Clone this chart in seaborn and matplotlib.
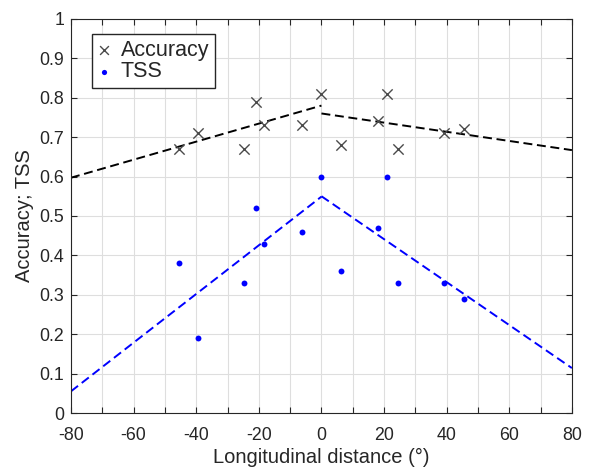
import matplotlib
matplotlib.use("Agg")
import matplotlib.pyplot as plt
import seaborn as sns
import pandas as pd
import numpy as np

# ---- data ----
dist = [-45.5, -39.4, -24.6, -20.9, -18.2, -6.1, 0.0, 6.3, 18.2, 21.0, 24.6, 39.3, 45.6]
accuracy = [0.67, 0.71, 0.67, 0.79, 0.73, 0.73, 0.81, 0.68, 0.74, 0.81, 0.67, 0.71, 0.72]
tss = [0.38, 0.19, 0.33, 0.52, 0.43, 0.46, 0.60, 0.36, 0.47, 0.60, 0.33, 0.33, 0.29]

# fitted trend lines (endpoints)
fit_left_x = [-80, 0]
fit_right_x = [0, 80]
acc_fit_left = [0.597, 0.780]
acc_fit_right = [0.760, 0.667]
tss_fit_left = [0.055, 0.549]
tss_fit_right = [0.550, 0.114]

xticks = list(range(-80, 81, 10))
xticklabels = [str(v) if v % 20 == 0 else "" for v in xticks]
yticks = [round(0.1 * i, 1) for i in range(11)]
yticklabels = ["0", "0.1", "0.2", "0.3", "0.4", "0.5", "0.6", "0.7", "0.8", "0.9", "1"]

sns.set_theme(style="ticks")
plt.rcParams["font.family"] = ["Liberation Sans", "DejaVu Sans"]

fig = plt.figure(figsize=(5.89, 4.72), dpi=100)
ax = fig.add_axes([0.1205, 0.125, 0.8505, 0.835])

df = pd.DataFrame({"dist": dist, "acc": accuracy, "tss": tss})

sns.scatterplot(data=df, x="dist", y="acc", marker="x", color="#4a4a4a",
                s=55, linewidth=1.0, label="Accuracy", ax=ax, zorder=3)
sns.scatterplot(data=df, x="dist", y="tss", marker="o", color="#0000ff",
                s=18, linewidth=0, label="TSS", ax=ax, zorder=3)

for xs, ys, c in [(fit_left_x, acc_fit_left, "black"),
                  (fit_right_x, acc_fit_right, "black"),
                  (fit_left_x, tss_fit_left, "#0000ff"),
                  (fit_right_x, tss_fit_right, "#0000ff")]:
    line_df = pd.DataFrame({"x": xs, "y": ys})
    sns.lineplot(data=line_df, x="x", y="y", color=c, linewidth=1.4,
                 ax=ax, legend=False, zorder=2)
for ln in ax.lines:
    ln.set_linestyle((0, (4.6, 2.4)))

ax.set_xlim(-80, 80)
ax.set_ylim(0, 1)
ax.set_xticks(xticks)
ax.set_xticklabels(xticklabels)
ax.set_yticks(yticks)
ax.set_yticklabels(yticklabels)
ax.grid(True, color="#dedede", linewidth=0.8)
ax.set_axisbelow(True)
ax.tick_params(direction="in", length=4, width=0.8, colors="#262626",
               labelsize=12.8, top=True, right=True)
ax.tick_params(axis="x", pad=10)
ax.tick_params(axis="y", pad=5)
for sp in ax.spines.values():
    sp.set_visible(True)
    sp.set_color("#262626")
    sp.set_linewidth(0.8)

ax.set_xlabel("Longitudinal distance (°)", fontsize=14.5, color="#262626", labelpad=3)
ax.set_ylabel("Accuracy; TSS", fontsize=14.5, color="#262626", labelpad=4)

leg = ax.legend(loc="upper left", bbox_to_anchor=(0.042, 0.962), borderaxespad=0,
                fontsize=15.5, frameon=True, fancybox=False, framealpha=1,
                edgecolor="#262626", handlelength=0.55, handletextpad=0.5,
                borderpad=0.28, labelspacing=0.02)
leg.get_frame().set_linewidth(1.0)
leg.legend_handles[0].set_sizes([40])
leg.legend_handles[1].set_sizes([14])

fig.savefig("out.png", dpi=100)
